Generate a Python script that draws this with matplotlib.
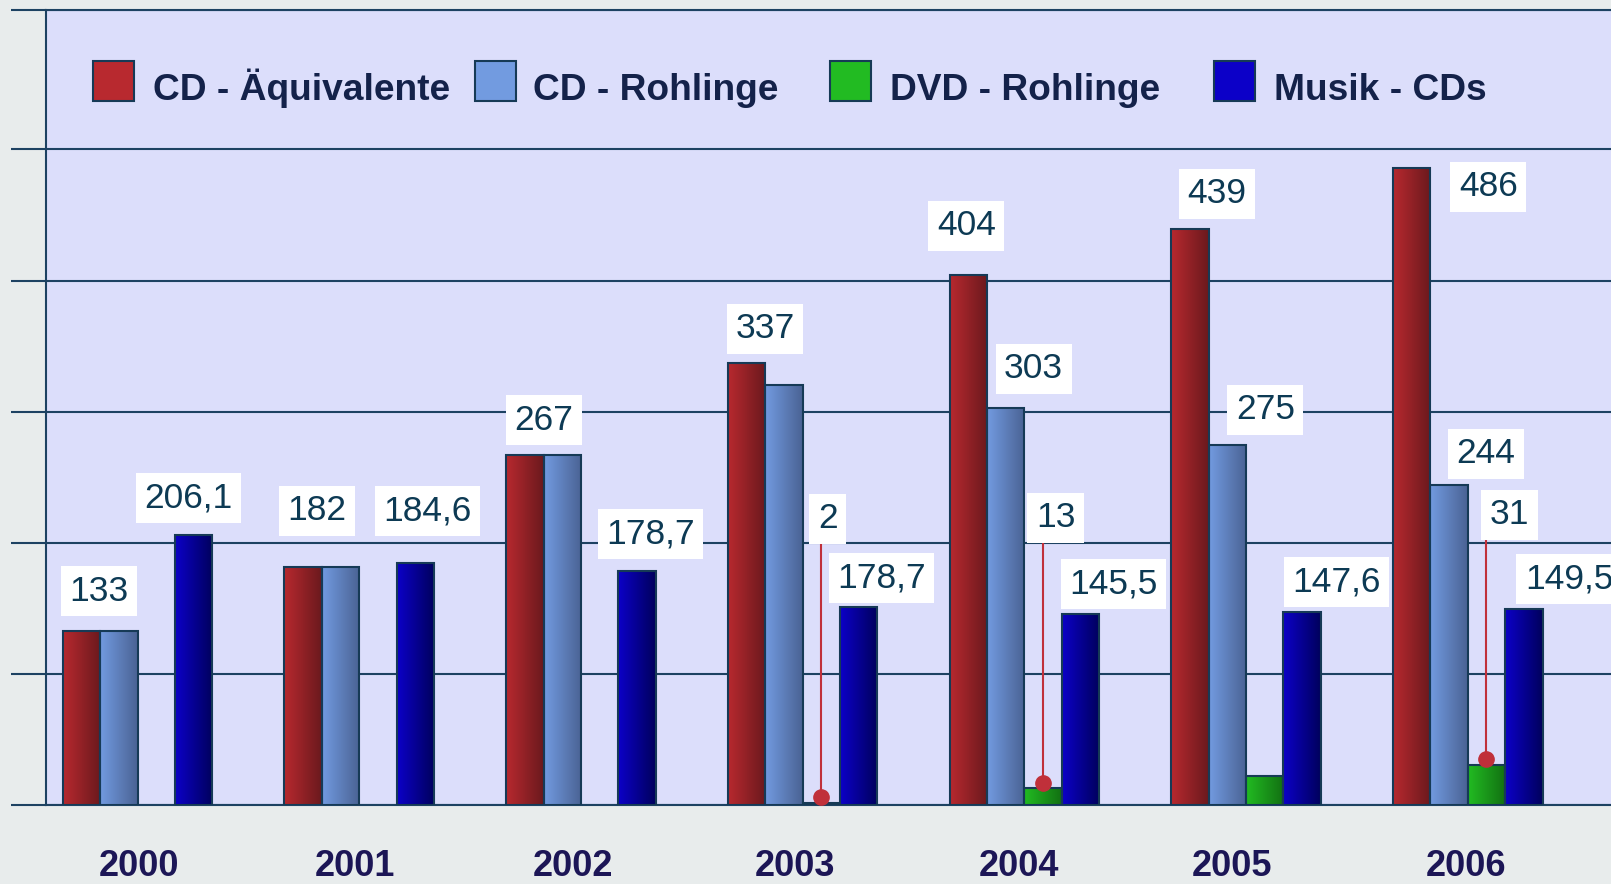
import numpy as np
import matplotlib.pyplot as plt
import matplotlib.transforms as mtrans
from matplotlib.colors import LinearSegmentedColormap
from matplotlib.patches import Rectangle

plt.rcParams['font.family'] = ['Liberation Sans', 'DejaVu Sans']

# --- Daten ---
years = ['2000', '2001', '2002', '2003', '2004', '2005', '2006']
series = ['CD - Äquivalente', 'CD - Rohlinge', 'DVD - Rohlinge', 'Musik - CDs']

cd_aequiv = [133, 182, 267, 337, 404, 439, 486]
cd_rohlinge = [133, 182, 267, 320, 303, 275, 244]
dvd_rohlinge = [np.nan, np.nan, np.nan, 2, 13, 22, 31]
musik_cds = [206.1, 184.6, 178.7, 151.0, 145.5, 147.6, 149.5]

# Beschriftungen wie im Original (None = keine)
lbl_aequiv = ['133', '182', '267', '337', '404', '439', '486']
lbl_rohlinge = [None, None, None, None, '303', '275', '244']
lbl_dvd = [None, None, None, '2', '13', None, '31']
lbl_musik = ['206,1', '184,6', '178,7', '178,7', '145,5', '147,6', '149,5']

# Lage der Beschriftung relativ zum Balken (dx in Kategorien, dy in Werten)
off_aequiv = [(0.08, 30), (0.063, 42.7), (0.087, 26.7), (0.083, 26.3), (-0.009, 37.7), (0.12, 27), (0.345, -14.6)]
off_rohlinge = [None, None, None, None, (0.126, 29.8), (0.171, 26.5), (0.167, 23.8)]
off_dvd = [None, None, None, (0.029, 216.5), (0.057, 206), None, (0.103, 190.6)]
off_musik = [(-0.023, 28), (0.055, 40), (0.06, 28), (0.103, 22), (0.148, 22.9), (0.156, 22.3), (0.204, 22.8)]
# Jahreszahlen stehen nicht ganz mittig unter den Gruppen
off_years = [0.007, -0.019, -0.036, -0.036, -0.026, -0.064, -0.008]

# Farben (links hell -> rechts dunkel)
colours = [('#b8292f', '#6a191d'), ('#729be0', '#4a6294'),
           ('#22bb22', '#127012'), ('#0c00c8', '#00005c')]
grid_c = '#1d4262'
edge_c = '#163a56'
lbl_c = '#0d3a54'
leg_c = '#14224a'
year_c = '#1c1656'
callout_c = '#c0303a'

W, H = 1611, 884
fig = plt.figure(figsize=(W / 100, H / 100), dpi=100, facecolor='#e8ecec')
ax = fig.add_axes([46 / W, 1 - 805.3 / H, 1 - 46 / W, (805.3 - 10.3) / H])
ax.set_facecolor('#dcdefb')

x = np.arange(len(years))
w = 0.1687
grad = np.linspace(0, 1, 256).reshape(1, -1)

data = [cd_aequiv, cd_rohlinge, dvd_rohlinge, musik_cds]
labels = [lbl_aequiv, lbl_rohlinge, lbl_dvd, lbl_musik]
offsets = [off_aequiv, off_rohlinge, off_dvd, off_musik]

for k, vals in enumerate(data):
    cmap = LinearSegmentedColormap.from_list(f's{k}', list(colours[k]))
    xs = x + (k - 1.5) * w
    bars = ax.bar(xs, vals, w, facecolor='none', edgecolor=edge_c, lw=1.5, zorder=4)
    for b in bars:
        h = b.get_height()
        if not np.isfinite(h) or h <= 0:
            continue
        im = ax.imshow(grad, cmap=cmap, extent=[b.get_x(), b.get_x() + w, 0, h],
                       aspect='auto', zorder=3, interpolation='bilinear')
        im.set_clip_path(b)
    for i, (s, off) in enumerate(zip(labels[k], offsets[k])):
        if s is None:
            continue
        v = vals[i]
        ly = v + off[1]
        if k == 2:
            # Linie mit Punkt fuer die kleinen DVD-Werte
            ax.plot([xs[i], xs[i]], [v + 4, ly], color=callout_c, lw=1.5, zorder=5)
            ax.plot(xs[i], v + 4, 'o', color=callout_c, ms=11, zorder=6)
        ax.text(xs[i] + off[0], ly, s, ha='center', va='center', fontsize=25.5,
                color=lbl_c, zorder=7,
                bbox=dict(boxstyle='square,pad=0.24', fc='white', ec='none'))

ytop = 606
ax.set_xlim(-0.413, 6.646)
ax.set_ylim(0, ytop)
ax.set_yticks(list(range(0, 600, 100)) + [ytop])
ax.set_xticks([])
ax.tick_params(axis='y', direction='out', length=25, width=1.5, color=grid_c, labelleft=False)
ax.yaxis.grid(True, color=grid_c, lw=1.5)
ax.set_axisbelow(True)
for side in ['left', 'top', 'bottom']:
    ax.spines[side].set_color(grid_c)
    ax.spines[side].set_linewidth(1.5)
ax.spines['right'].set_visible(False)

# Jahreszahlen (knapp ueber dem unteren Rand)
tr = mtrans.blended_transform_factory(ax.transData, fig.transFigure)
for i, yr in enumerate(years):
    ax.text(x[i] + off_years[i], 1 - 875.5 / H, yr, transform=tr, ha='center', va='baseline',
            fontsize=26, fontweight='bold', color=year_c, clip_on=False)

# Legende von Hand
sq_x = [92.7, 474.7, 830.1, 1214.4]
tx_x = [153, 533.2, 889.7, 1274.3]
for k, name in enumerate(series):
    fig.add_artist(Rectangle((sq_x[k] / W, 1 - 100.7 / H), 41 / W, 40 / H,
                             transform=fig.transFigure, facecolor=colours[k][0],
                             edgecolor=edge_c, lw=1.5))
    fig.text(tx_x[k] / W, 1 - 100 / H, name, fontsize=26.7, fontweight='bold',
             color=leg_c, va='baseline', ha='left')

fig.savefig('out.png', dpi=100, facecolor=fig.get_facecolor())
